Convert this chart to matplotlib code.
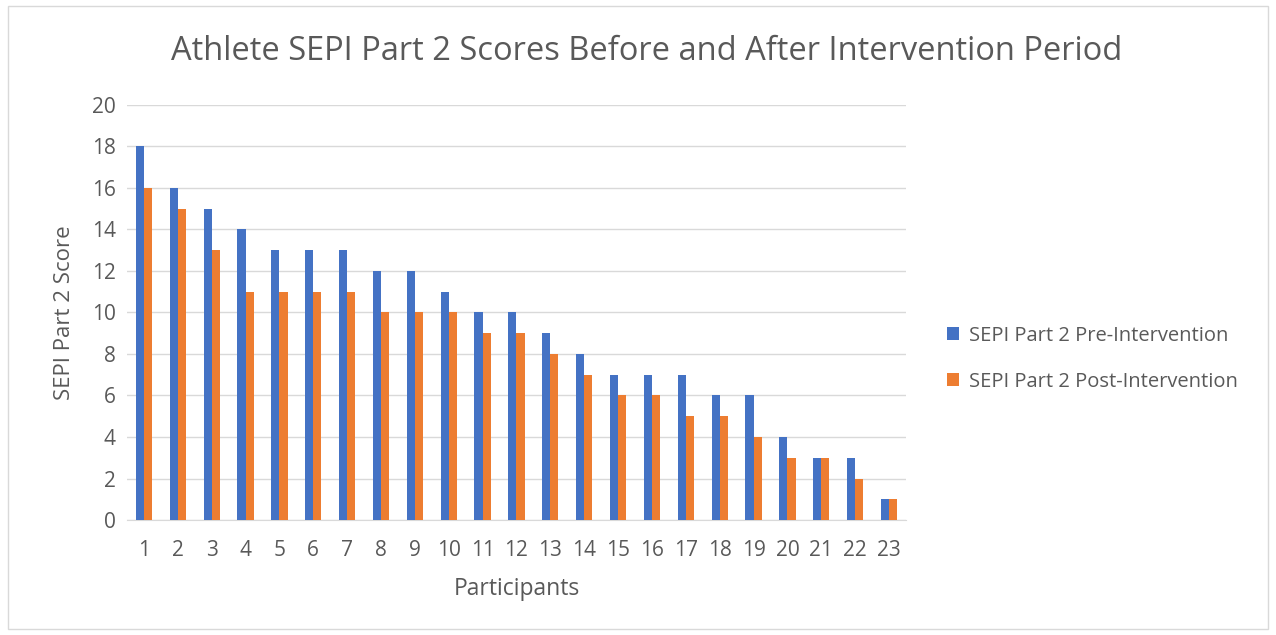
import numpy as np
import matplotlib.pyplot as plt
from matplotlib.patches import Rectangle

participants = [str(i) for i in range(1, 24)]
pre = [18, 16, 15, 14, 13, 13, 13, 12, 12, 11, 10, 10, 9, 8, 7, 7, 7, 6, 6, 4, 3, 3, 1]
post = [16, 15, 13, 11, 11, 11, 11, 10, 10, 10, 9, 9, 8, 7, 6, 6, 5, 5, 4, 3, 3, 2, 1]

plt.rcParams['font.family'] = ['Open Sans', 'DejaVu Sans']
txt = '#595959'

fig = plt.figure(figsize=(12.76, 6.35), dpi=100)
fig.patches.append(Rectangle((0.006, 0.01), 0.988, 0.98, transform=fig.transFigure,
                             fill=False, edgecolor='#D9D9D9', linewidth=1))
ax = fig.add_axes([0.0995, 0.181, 0.6105, 0.654])

x = np.arange(len(participants))
w = 0.24
ax.bar(x - w / 2, pre, w, color='#4472C4', label='SEPI Part 2 Pre-Intervention', zorder=3)
ax.bar(x + w / 2, post, w, color='#ED7D31', label='SEPI Part 2 Post-Intervention', zorder=3)

ax.set_xlim(-0.5, len(participants) - 0.5)
ax.set_ylim(0, 20)
ax.set_yticks(range(0, 21, 2))
ax.set_xticks(x)
ax.set_xticklabels(participants)
ax.grid(axis='y', color='#D9D9D9', linewidth=1, zorder=0)
for s in ['top', 'right', 'left']:
    ax.spines[s].set_visible(False)
ax.spines['bottom'].set_color('#D9D9D9')
ax.tick_params(length=0, labelsize=15, colors=txt)
ax.tick_params(axis='x', pad=14)
ax.tick_params(axis='y', pad=8)

ax.set_xlabel('Participants', fontsize=16.5, color=txt, labelpad=12)
ax.set_ylabel('SEPI Part 2 Score', fontsize=16, color=txt, labelpad=12)
fig.suptitle('Athlete SEPI Part 2 Scores Before and After Intervention Period',
             x=0.507, y=0.945, fontsize=23.5, color=txt)

fig.legend(loc='center left', bbox_to_anchor=(0.728, 0.435), frameon=False,
           fontsize=14.5, labelcolor=txt, handlelength=0.6, handleheight=0.6,
           labelspacing=1.3, handletextpad=0.5)

plt.savefig('out.png', dpi=100)
